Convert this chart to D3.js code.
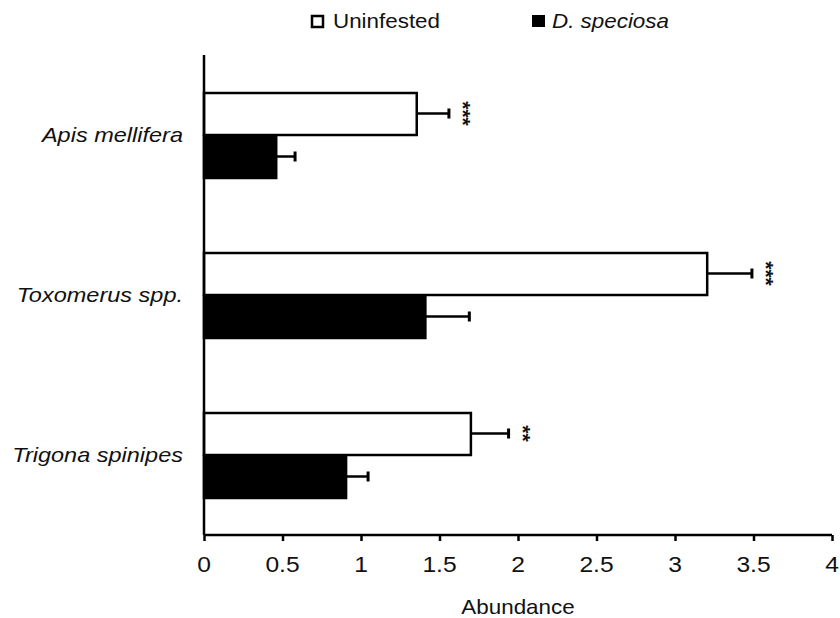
<!DOCTYPE html>
<html>
<head>
<meta charset="utf-8">
<script src="https://cdn.jsdelivr.net/npm/d3@7"></script>
<style>
  html, body { margin: 0; padding: 0; background: #fff; }
  svg { display: block; }
  text { font-family: "Liberation Sans", Arial, sans-serif; fill: #111; }
</style>
</head>
<body>
<svg id="chart" width="840" height="618"></svg>
<script>
// Pollinator abundance on uninfested vs. D. speciosa-infested plants
const species = ["Apis mellifera", "Toxomerus spp.", "Trigona spinipes"];
const seriesNames = ["Uninfested", "D. speciosa"];
const uninfested = [1.355, 3.205, 1.70];
const uninfestedErr = [0.205, 0.285, 0.24];
const infested = [0.46, 1.41, 0.905];
const infestedErr = [0.12, 0.28, 0.14];
const signif = ["***", "***", "**"];
const xTicks = [0, 0.5, 1, 1.5, 2, 2.5, 3, 3.5, 4];

const svg = d3.select("#chart");
const stretch = 1.12; // glyphs are set slightly wide

const x = d3.scaleLinear().domain([0, 4]).range([204, 832]);
const y = d3.scaleBand().domain(species).range([55, 535])
  .paddingInner(0.4625).paddingOuter(0.23125);
const sub = d3.scaleBand().domain(seriesNames).range([0, y.bandwidth()]);

function stretchedText(g, px, py) {
  return g.append("text").attr("transform", `translate(${px},${py}) scale(${stretch},1)`);
}

const rows = species.map((s, i) => ({
  s, vals: [
    { k: "Uninfested", v: uninfested[i], e: uninfestedErr[i] },
    { k: "D. speciosa", v: infested[i], e: infestedErr[i] }
  ], sig: signif[i]
}));

const groups = svg.append("g").selectAll("g").data(rows).join("g")
  .attr("transform", d => `translate(0,${y(d.s)})`);

// error bars (drawn beneath the bars)
groups.selectAll("g.err").data(d => d.vals).join("g").attr("class", "err")
  .each(function (d) {
    const g = d3.select(this);
    const cy = sub(d.k) + sub.bandwidth() / 2;
    g.append("line").attr("x1", x(d.v)).attr("x2", x(d.v + d.e))
      .attr("y1", cy).attr("y2", cy).attr("stroke", "#000").attr("stroke-width", 2.5);
    g.append("line").attr("x1", x(d.v + d.e)).attr("x2", x(d.v + d.e))
      .attr("y1", cy - 5).attr("y2", cy + 5).attr("stroke", "#000").attr("stroke-width", 3);
  });

groups.selectAll("rect").data(d => d.vals).join("rect")
  .attr("x", x(0))
  .attr("y", d => sub(d.k) + 1)
  .attr("width", d => x(d.v) - x(0))
  .attr("height", sub.bandwidth() - 1)
  .attr("fill", d => d.k === "Uninfested" ? "#fff" : "#000")
  .attr("stroke", "#000").attr("stroke-width", 2.5);

// significance stars, set vertically
groups.each(function (d) {
  const u = d.vals[0];
  const cy = sub("Uninfested") + sub.bandwidth() / 2;
  d3.select(this).append("text")
    .attr("transform", `translate(${x(u.v + u.e) + 7},${cy}) rotate(90)`)
    .attr("text-anchor", "middle")
    .attr("font-size", 21)
    .attr("font-weight", "bold")
    .text(d.sig);
});

// y axis line
svg.append("line").attr("x1", x(0)).attr("x2", x(0)).attr("y1", 55).attr("y2", 535)
  .attr("stroke", "#000").attr("stroke-width", 2.5);

// category labels
species.forEach(s => {
  stretchedText(svg, 183, y(s) + y.bandwidth() / 2 + 7)
    .attr("text-anchor", "end").attr("font-size", 21).attr("font-style", "italic").text(s);
});

// x axis
const xAxis = svg.append("g").attr("transform", "translate(0,535)")
  .call(d3.axisBottom(x).tickValues(xTicks).tickSize(6).tickFormat(d3.format("")));
xAxis.select(".domain").attr("stroke", "#000").attr("stroke-width", 2.5)
  .attr("d", `M${x(0)},0H${x(4)}`);
xAxis.selectAll(".tick line").attr("stroke", "#000").attr("stroke-width", 2.5);
xAxis.selectAll(".tick text").remove();
xTicks.forEach(t => {
  stretchedText(svg, x(t), 572).attr("text-anchor", "middle").attr("font-size", 22).text(String(t));
});

stretchedText(svg, (x(0) + x(4)) / 2, 614).attr("text-anchor", "middle").attr("font-size", 20).text("Abundance");

// legend
svg.append("rect").attr("x", 312).attr("y", 16).attr("width", 11).attr("height", 11)
  .attr("fill", "#fff").attr("stroke", "#000").attr("stroke-width", 2.5);
stretchedText(svg, 333, 28).attr("font-size", 20).text(seriesNames[0]);
svg.append("rect").attr("x", 532).attr("y", 15).attr("width", 13).attr("height", 12).attr("fill", "#000");
stretchedText(svg, 552, 28).attr("font-size", 20).attr("font-style", "italic").text(seriesNames[1]);
</script>
</body>
</html>
